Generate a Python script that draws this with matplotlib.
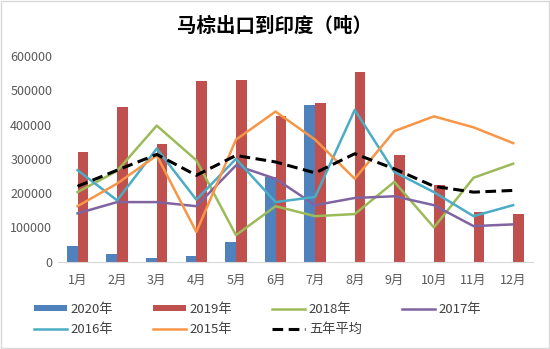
import numpy as np
import matplotlib
matplotlib.use("Agg")
import matplotlib.pyplot as plt
from matplotlib.patches import Rectangle

plt.rcParams['font.family'] = ['Noto Sans CJK SC', 'DejaVu Sans']

months = ['1月', '2月', '3月', '4月', '5月', '6月', '7月', '8月', '9月', '10月', '11月', '12月']
y2020 = [46500, 21500, 10700, 17400, 56400, 247000, 456000, 0, 0, 0, 0, 0]
y2019 = [320000, 452000, 343000, 526000, 530000, 426000, 463000, 552000, 312000, 223000, 144000, 139500]
y2018 = [203000, 265000, 397000, 296000, 77600, 162000, 133000, 139000, 233000, 100000, 245000, 286000]
y2017 = [141000, 174000, 174000, 162000, 281000, 242000, 165000, 186000, 191000, 165000, 104000, 109000]
y2016 = [267000, 179000, 330000, 181000, 300000, 174000, 189000, 443000, 262000, 203000, 133000, 165000]
y2015 = [162000, 228000, 310000, 87000, 356000, 438000, 356000, 242000, 381000, 424000, 392000, 346000]
avg5 = [220000, 267000, 313000, 252000, 310000, 291000, 259000, 315000, 271000, 220000, 203000, 208000]

fig = plt.figure(figsize=(5.5, 3.49), dpi=100)
fig.patches.append(Rectangle((0.002, 0.003), 0.996, 0.994, transform=fig.transFigure,
                             fill=False, edgecolor='#d9d9d9', linewidth=1))
ax = fig.add_axes([0.105, 0.25, 0.864, 0.5895])

x = np.arange(len(months))
w = 0.27
ax.bar(x - w / 2, y2020, width=w, color='#4F81BD', label='2020年', zorder=2)
ax.bar(x + w / 2, y2019, width=w, color='#C0504D', label='2019年', zorder=2)
ax.plot(x, y2018, color='#9BBB59', lw=1.8, label='2018年', zorder=3)
ax.plot(x, y2017, color='#8064A2', lw=1.8, label='2017年', zorder=3)
ax.plot(x, y2016, color='#4BACC6', lw=1.8, label='2016年', zorder=3)
ax.plot(x, y2015, color='#F79646', lw=1.8, label='2015年', zorder=3)
ax.plot(x, avg5, color='black', lw=2.2, ls=(0, (3.5, 1.8)), label='五年平均', zorder=4)

ax.set_xlim(-0.5, 11.5)
ax.set_ylim(0, 600000)
ax.set_yticks(np.arange(0, 600001, 100000))
ax.set_yticklabels([f'{v}' for v in range(0, 600001, 100000)])
ax.set_xticks(x)
ax.set_xticklabels(months)
for s in ['top', 'right', 'left']:
    ax.spines[s].set_visible(False)
ax.spines['bottom'].set_color('#d9d9d9')
ax.tick_params(axis='both', length=0, labelsize=9, labelcolor='#595959')
ax.tick_params(axis='y', pad=4)
ax.tick_params(axis='x', pad=9)

fig.text(0.5, 0.925, '马棕出口到印度（吨）', ha='center', va='center', fontsize=14, fontweight='bold')

h, l = ax.get_legend_handles_labels()
d = dict(zip(l, h))
order = ['2020年', '2016年', '2019年', '2015年', '2018年', '五年平均', '2017年']
fig.legend([d[k] for k in order], order, ncol=4, loc='center', bbox_to_anchor=(0.468, 0.085),
           frameon=False, fontsize=9.5, handlelength=2.5, handleheight=0.35, columnspacing=3.0,
           labelspacing=0.55, handletextpad=0.3, labelcolor='#404040')

fig.savefig('out.png', dpi=100)
